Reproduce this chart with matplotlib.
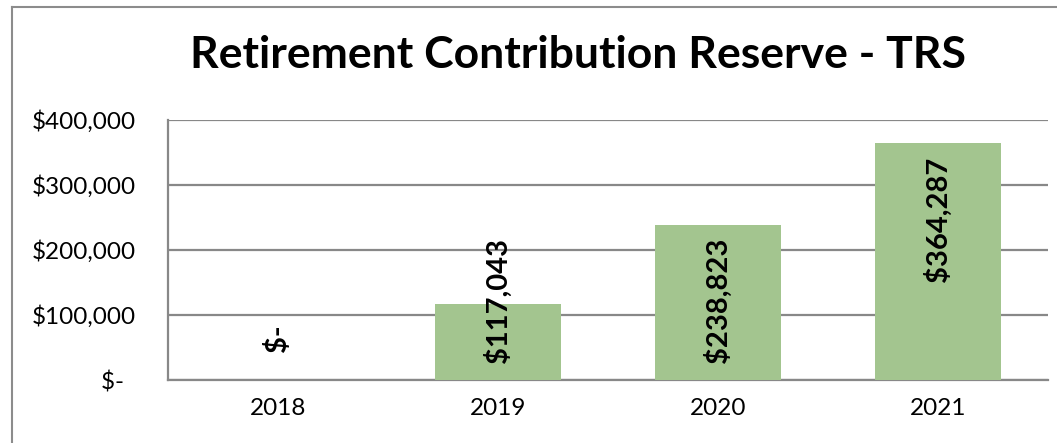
import matplotlib
matplotlib.use("Agg")
import matplotlib.pyplot as plt
from matplotlib.lines import Line2D

years = ["2018", "2019", "2020", "2021"]
reserve = [0, 117043, 238823, 364287]
yticks = [0, 100000, 200000, 300000, 400000]
ytick_labels = ["$-  ", "$100,000", "$200,000", "$300,000", "$400,000"]


def money(v):
    if v == 0:
        return "$-"
    return "${:,}".format(v)


plt.rcParams['font.family'] = ['Lato', 'DejaVu Sans']

fig = plt.figure(figsize=(10.57, 4.43), dpi=100)
ax = fig.add_axes([168 / 1057, 1 - 380 / 443, 880 / 1057, 260 / 443])

x = range(len(years))
ax.bar(x, reserve, width=0.573, color="#A3C58F", zorder=3)
ax.set_xlim(-0.5, len(years) - 0.5)
ax.set_ylim(0, 400000)
ax.set_yticks(yticks)
ax.set_yticklabels(ytick_labels, fontsize=17.5)
ax.set_xticks(list(x))
ax.set_xticklabels(years, fontsize=17.5)
ax.tick_params(axis="both", length=0, colors="black")
ax.tick_params(axis="y", pad=23)
ax.tick_params(axis="x", pad=13)
ax.grid(axis="y", color="#888888", linewidth=1.6, zorder=0)
for s in ["top", "right"]:
    ax.spines[s].set_visible(False)
for s in ["left", "bottom"]:
    ax.spines[s].set_color("#888888")
    ax.spines[s].set_linewidth(1.6)

# data labels: inside end if they fit, otherwise from near the base
for i, v in enumerate(reserve):
    if v == 0:
        ax.annotate(money(v), (i, 0), xytext=(0, 20), textcoords="offset points",
                    rotation=90, ha="center", va="bottom", fontsize=21, fontweight="bold")
    elif v > 250000:
        ax.annotate(money(v), (i, v), xytext=(0, -10), textcoords="offset points",
                    rotation=90, ha="center", va="top", fontsize=21, fontweight="bold")
    else:
        ax.annotate(money(v), (i, 0), xytext=(0, 12), textcoords="offset points",
                    rotation=90, ha="center", va="bottom", fontsize=21, fontweight="bold")

fig.text(578 / 1057, 1 - 55 / 443, "Retirement Contribution Reserve - TRS",
         ha="center", va="center", fontsize=32, fontweight="bold")

# chart area border (left and top edges visible)
fig.add_artist(Line2D([12 / 1057, 12 / 1057], [0, 1 - 7 / 443], color="#8c8c8c", linewidth=1.5))
fig.add_artist(Line2D([12 / 1057, 1], [1 - 7 / 443, 1 - 7 / 443], color="#8c8c8c", linewidth=1.5))

fig.savefig("out.png", dpi=100)
